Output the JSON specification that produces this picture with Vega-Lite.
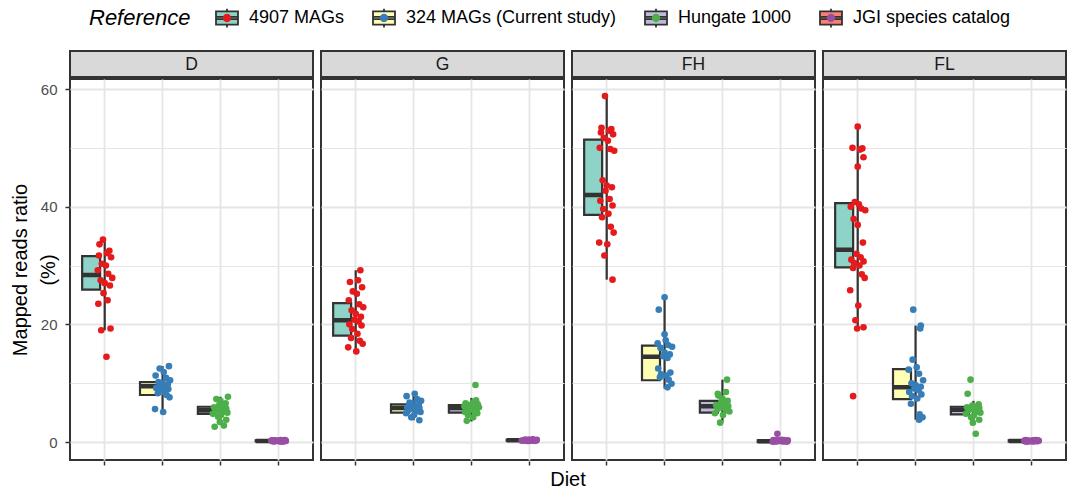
{
  "$schema": "https://vega.github.io/schema/vega-lite/v6.json",
  "background": "white",
  "padding": {"left": 10, "top": 6, "right": 4, "bottom": 4},
  "config": {
    "font": "Liberation Sans",
    "view": {"stroke": "#333333", "strokeWidth": 2},
    "axis": {"domain": false}
  },
  "datasets": {
    "strips": [{"diet": "D"}, {"diet": "G"}, {"diet": "FH"}, {"diet": "FL"}],
    "main": [
      {"diet":"D","ref":"4907 MAGs","lo":19.0,"q1":25.9,"med":28.4,"q3":31.6,"hi":34.4},
      {"diet":"D","ref":"324 MAGs (Current study)","lo":5.1,"q1":8.0,"med":9.5,"q3":10.2,"hi":12.9},
      {"diet":"D","ref":"Hungate 1000","lo":3.4,"q1":4.8,"med":5.4,"q3":6.0,"hi":7.7},
      {"diet":"D","ref":"JGI species catalog","lo":0.05,"q1":0.12,"med":0.2,"q3":0.3,"hi":0.4},
      {"diet":"G","ref":"4907 MAGs","lo":15.3,"q1":18.1,"med":20.7,"q3":23.6,"hi":29.2},
      {"diet":"G","ref":"324 MAGs (Current study)","lo":3.7,"q1":5.0,"med":5.8,"q3":6.4,"hi":8.2},
      {"diet":"G","ref":"Hungate 1000","lo":3.5,"q1":5.0,"med":5.8,"q3":6.3,"hi":7.5},
      {"diet":"G","ref":"JGI species catalog","lo":0.1,"q1":0.2,"med":0.3,"q3":0.4,"hi":0.5},
      {"diet":"FH","ref":"4907 MAGs","lo":27.6,"q1":38.6,"med":42.0,"q3":51.4,"hi":58.8},
      {"diet":"FH","ref":"324 MAGs (Current study)","lo":9.1,"q1":10.5,"med":14.5,"q3":16.4,"hi":24.6},
      {"diet":"FH","ref":"Hungate 1000","lo":3.3,"q1":5.0,"med":6.1,"q3":7.0,"hi":10.6},
      {"diet":"FH","ref":"JGI species catalog","lo":0.0,"q1":0.0,"med":0.15,"q3":0.3,"hi":0.5},
      {"diet":"FL","ref":"4907 MAGs","lo":19.3,"q1":29.7,"med":32.7,"q3":40.6,"hi":53.6},
      {"diet":"FL","ref":"324 MAGs (Current study)","lo":3.8,"q1":7.3,"med":9.3,"q3":12.4,"hi":19.8},
      {"diet":"FL","ref":"Hungate 1000","lo":3.4,"q1":4.7,"med":5.5,"q3":6.0,"hi":7.0},
      {"diet":"FL","ref":"JGI species catalog","lo":0.05,"q1":0.1,"med":0.2,"q3":0.3,"hi":0.4},

      {"diet":"D","ref":"4907 MAGs","v":34.4,"j":-0.03},{"diet":"D","ref":"4907 MAGs","v":33.6,"j":-0.09},{"diet":"D","ref":"4907 MAGs","v":32.5,"j":0.08},{"diet":"D","ref":"4907 MAGs","v":32.1,"j":0.04},{"diet":"D","ref":"4907 MAGs","v":31.7,"j":-0.1},{"diet":"D","ref":"4907 MAGs","v":31.4,"j":0.11},{"diet":"D","ref":"4907 MAGs","v":30.3,"j":-0.05},{"diet":"D","ref":"4907 MAGs","v":30.0,"j":0.02},{"diet":"D","ref":"4907 MAGs","v":29.2,"j":-0.12},{"diet":"D","ref":"4907 MAGs","v":28.6,"j":0.06},{"diet":"D","ref":"4907 MAGs","v":27.9,"j":0.13},{"diet":"D","ref":"4907 MAGs","v":27.5,"j":-0.07},{"diet":"D","ref":"4907 MAGs","v":27.0,"j":0.0},{"diet":"D","ref":"4907 MAGs","v":26.6,"j":0.09},{"diet":"D","ref":"4907 MAGs","v":25.3,"j":-0.02},{"diet":"D","ref":"4907 MAGs","v":24.1,"j":0.05},{"diet":"D","ref":"4907 MAGs","v":23.5,"j":-0.11},{"diet":"D","ref":"4907 MAGs","v":19.3,"j":0.1},{"diet":"D","ref":"4907 MAGs","v":19.0,"j":-0.06},{"diet":"D","ref":"4907 MAGs","v":14.5,"j":0.03},

      {"diet":"D","ref":"324 MAGs (Current study)","v":12.9,"j":0.11},{"diet":"D","ref":"324 MAGs (Current study)","v":12.5,"j":-0.05},{"diet":"D","ref":"324 MAGs (Current study)","v":11.9,"j":0.02},{"diet":"D","ref":"324 MAGs (Current study)","v":11.3,"j":-0.12},{"diet":"D","ref":"324 MAGs (Current study)","v":10.9,"j":0.06},{"diet":"D","ref":"324 MAGs (Current study)","v":10.5,"j":0.13},{"diet":"D","ref":"324 MAGs (Current study)","v":10.2,"j":-0.07},{"diet":"D","ref":"324 MAGs (Current study)","v":10.0,"j":0.0},{"diet":"D","ref":"324 MAGs (Current study)","v":9.8,"j":0.09},{"diet":"D","ref":"324 MAGs (Current study)","v":9.6,"j":-0.02},{"diet":"D","ref":"324 MAGs (Current study)","v":9.4,"j":0.05},{"diet":"D","ref":"324 MAGs (Current study)","v":9.2,"j":-0.11},{"diet":"D","ref":"324 MAGs (Current study)","v":9.0,"j":0.1},{"diet":"D","ref":"324 MAGs (Current study)","v":8.8,"j":-0.06},{"diet":"D","ref":"324 MAGs (Current study)","v":8.5,"j":0.03},{"diet":"D","ref":"324 MAGs (Current study)","v":8.3,"j":-0.08},{"diet":"D","ref":"324 MAGs (Current study)","v":8.0,"j":0.07},{"diet":"D","ref":"324 MAGs (Current study)","v":7.6,"j":0.12},{"diet":"D","ref":"324 MAGs (Current study)","v":5.6,"j":-0.13},{"diet":"D","ref":"324 MAGs (Current study)","v":5.1,"j":0.01},

      {"diet":"D","ref":"Hungate 1000","v":7.7,"j":0.13},{"diet":"D","ref":"Hungate 1000","v":7.3,"j":-0.07},{"diet":"D","ref":"Hungate 1000","v":7.0,"j":0.0},{"diet":"D","ref":"Hungate 1000","v":6.6,"j":0.09},{"diet":"D","ref":"Hungate 1000","v":6.3,"j":-0.02},{"diet":"D","ref":"Hungate 1000","v":6.1,"j":0.05},{"diet":"D","ref":"Hungate 1000","v":5.9,"j":-0.11},{"diet":"D","ref":"Hungate 1000","v":5.7,"j":0.1},{"diet":"D","ref":"Hungate 1000","v":5.5,"j":-0.06},{"diet":"D","ref":"Hungate 1000","v":5.4,"j":0.03},{"diet":"D","ref":"Hungate 1000","v":5.3,"j":-0.08},{"diet":"D","ref":"Hungate 1000","v":5.2,"j":0.07},{"diet":"D","ref":"Hungate 1000","v":5.0,"j":0.12},{"diet":"D","ref":"Hungate 1000","v":4.8,"j":-0.13},{"diet":"D","ref":"Hungate 1000","v":4.6,"j":0.01},{"diet":"D","ref":"Hungate 1000","v":4.3,"j":-0.04},{"diet":"D","ref":"Hungate 1000","v":3.8,"j":0.1},{"diet":"D","ref":"Hungate 1000","v":3.4,"j":-0.01},{"diet":"D","ref":"Hungate 1000","v":2.8,"j":0.06},{"diet":"D","ref":"Hungate 1000","v":2.6,"j":-0.1},

      {"diet":"D","ref":"JGI species catalog","v":0.35,"j":0.04},{"diet":"D","ref":"JGI species catalog","v":0.3,"j":-0.1},{"diet":"D","ref":"JGI species catalog","v":0.32,"j":0.11},{"diet":"D","ref":"JGI species catalog","v":0.28,"j":-0.05},{"diet":"D","ref":"JGI species catalog","v":0.25,"j":0.02},{"diet":"D","ref":"JGI species catalog","v":0.26,"j":-0.12},{"diet":"D","ref":"JGI species catalog","v":0.22,"j":0.06},{"diet":"D","ref":"JGI species catalog","v":0.2,"j":0.13},{"diet":"D","ref":"JGI species catalog","v":0.21,"j":-0.07},{"diet":"D","ref":"JGI species catalog","v":0.19,"j":0.0},{"diet":"D","ref":"JGI species catalog","v":0.18,"j":0.09},{"diet":"D","ref":"JGI species catalog","v":0.17,"j":-0.02},{"diet":"D","ref":"JGI species catalog","v":0.15,"j":0.05},{"diet":"D","ref":"JGI species catalog","v":0.16,"j":-0.11},{"diet":"D","ref":"JGI species catalog","v":0.12,"j":0.1},{"diet":"D","ref":"JGI species catalog","v":0.13,"j":-0.06},{"diet":"D","ref":"JGI species catalog","v":0.1,"j":0.03},{"diet":"D","ref":"JGI species catalog","v":0.11,"j":-0.08},{"diet":"D","ref":"JGI species catalog","v":0.08,"j":0.07},{"diet":"D","ref":"JGI species catalog","v":0.3,"j":0.12},

      {"diet":"G","ref":"4907 MAGs","v":29.2,"j":0.08},{"diet":"G","ref":"4907 MAGs","v":27.5,"j":0.04},{"diet":"G","ref":"4907 MAGs","v":27.2,"j":-0.1},{"diet":"G","ref":"4907 MAGs","v":26.3,"j":0.11},{"diet":"G","ref":"4907 MAGs","v":25.6,"j":-0.05},{"diet":"G","ref":"4907 MAGs","v":25.2,"j":0.02},{"diet":"G","ref":"4907 MAGs","v":24.1,"j":-0.12},{"diet":"G","ref":"4907 MAGs","v":23.4,"j":0.06},{"diet":"G","ref":"4907 MAGs","v":22.9,"j":0.13},{"diet":"G","ref":"4907 MAGs","v":22.4,"j":-0.07},{"diet":"G","ref":"4907 MAGs","v":21.8,"j":0.0},{"diet":"G","ref":"4907 MAGs","v":21.3,"j":0.09},{"diet":"G","ref":"4907 MAGs","v":20.8,"j":-0.02},{"diet":"G","ref":"4907 MAGs","v":20.5,"j":0.05},{"diet":"G","ref":"4907 MAGs","v":20.0,"j":-0.11},{"diet":"G","ref":"4907 MAGs","v":19.8,"j":0.1},{"diet":"G","ref":"4907 MAGs","v":19.2,"j":-0.06},{"diet":"G","ref":"4907 MAGs","v":18.4,"j":0.03},{"diet":"G","ref":"4907 MAGs","v":17.7,"j":-0.08},{"diet":"G","ref":"4907 MAGs","v":17.2,"j":0.07},{"diet":"G","ref":"4907 MAGs","v":16.7,"j":0.12},{"diet":"G","ref":"4907 MAGs","v":16.1,"j":-0.13},{"diet":"G","ref":"4907 MAGs","v":15.4,"j":0.01},

      {"diet":"G","ref":"324 MAGs (Current study)","v":8.2,"j":0.02},{"diet":"G","ref":"324 MAGs (Current study)","v":7.8,"j":-0.12},{"diet":"G","ref":"324 MAGs (Current study)","v":7.3,"j":0.06},{"diet":"G","ref":"324 MAGs (Current study)","v":7.0,"j":0.13},{"diet":"G","ref":"324 MAGs (Current study)","v":6.7,"j":-0.07},{"diet":"G","ref":"324 MAGs (Current study)","v":6.5,"j":0.0},{"diet":"G","ref":"324 MAGs (Current study)","v":6.3,"j":0.09},{"diet":"G","ref":"324 MAGs (Current study)","v":6.1,"j":-0.02},{"diet":"G","ref":"324 MAGs (Current study)","v":6.0,"j":0.05},{"diet":"G","ref":"324 MAGs (Current study)","v":5.9,"j":-0.11},{"diet":"G","ref":"324 MAGs (Current study)","v":5.8,"j":0.1},{"diet":"G","ref":"324 MAGs (Current study)","v":5.7,"j":-0.06},{"diet":"G","ref":"324 MAGs (Current study)","v":5.6,"j":0.03},{"diet":"G","ref":"324 MAGs (Current study)","v":5.5,"j":-0.08},{"diet":"G","ref":"324 MAGs (Current study)","v":5.3,"j":0.07},{"diet":"G","ref":"324 MAGs (Current study)","v":5.1,"j":0.12},{"diet":"G","ref":"324 MAGs (Current study)","v":4.9,"j":-0.13},{"diet":"G","ref":"324 MAGs (Current study)","v":4.6,"j":0.01},{"diet":"G","ref":"324 MAGs (Current study)","v":4.2,"j":-0.04},{"diet":"G","ref":"324 MAGs (Current study)","v":3.7,"j":0.1},

      {"diet":"G","ref":"Hungate 1000","v":9.7,"j":0.07},{"diet":"G","ref":"Hungate 1000","v":7.1,"j":0.08},{"diet":"G","ref":"Hungate 1000","v":6.8,"j":0.04},{"diet":"G","ref":"Hungate 1000","v":6.6,"j":-0.1},{"diet":"G","ref":"Hungate 1000","v":6.4,"j":0.11},{"diet":"G","ref":"Hungate 1000","v":6.3,"j":-0.05},{"diet":"G","ref":"Hungate 1000","v":6.2,"j":0.02},{"diet":"G","ref":"Hungate 1000","v":6.1,"j":-0.12},{"diet":"G","ref":"Hungate 1000","v":6.0,"j":0.06},{"diet":"G","ref":"Hungate 1000","v":5.9,"j":0.13},{"diet":"G","ref":"Hungate 1000","v":5.8,"j":-0.07},{"diet":"G","ref":"Hungate 1000","v":5.7,"j":0.0},{"diet":"G","ref":"Hungate 1000","v":5.6,"j":0.09},{"diet":"G","ref":"Hungate 1000","v":5.5,"j":-0.02},{"diet":"G","ref":"Hungate 1000","v":5.3,"j":0.05},{"diet":"G","ref":"Hungate 1000","v":5.1,"j":-0.11},{"diet":"G","ref":"Hungate 1000","v":4.9,"j":0.1},{"diet":"G","ref":"Hungate 1000","v":4.6,"j":-0.06},{"diet":"G","ref":"Hungate 1000","v":4.2,"j":0.03},{"diet":"G","ref":"Hungate 1000","v":3.6,"j":-0.08},

      {"diet":"G","ref":"JGI species catalog","v":0.45,"j":0.06},{"diet":"G","ref":"JGI species catalog","v":0.4,"j":0.13},{"diet":"G","ref":"JGI species catalog","v":0.42,"j":-0.07},{"diet":"G","ref":"JGI species catalog","v":0.38,"j":0.0},{"diet":"G","ref":"JGI species catalog","v":0.35,"j":0.09},{"diet":"G","ref":"JGI species catalog","v":0.36,"j":-0.02},{"diet":"G","ref":"JGI species catalog","v":0.32,"j":0.05},{"diet":"G","ref":"JGI species catalog","v":0.3,"j":-0.11},{"diet":"G","ref":"JGI species catalog","v":0.31,"j":0.1},{"diet":"G","ref":"JGI species catalog","v":0.29,"j":-0.06},{"diet":"G","ref":"JGI species catalog","v":0.28,"j":0.03},{"diet":"G","ref":"JGI species catalog","v":0.27,"j":-0.08},{"diet":"G","ref":"JGI species catalog","v":0.25,"j":0.07},{"diet":"G","ref":"JGI species catalog","v":0.26,"j":0.12},{"diet":"G","ref":"JGI species catalog","v":0.22,"j":-0.13},{"diet":"G","ref":"JGI species catalog","v":0.23,"j":0.01},{"diet":"G","ref":"JGI species catalog","v":0.2,"j":-0.04},{"diet":"G","ref":"JGI species catalog","v":0.21,"j":0.1},{"diet":"G","ref":"JGI species catalog","v":0.18,"j":-0.01},{"diet":"G","ref":"JGI species catalog","v":0.4,"j":0.06},

      {"diet":"FH","ref":"4907 MAGs","v":58.8,"j":-0.03},{"diet":"FH","ref":"4907 MAGs","v":53.4,"j":-0.09},{"diet":"FH","ref":"4907 MAGs","v":53.2,"j":0.08},{"diet":"FH","ref":"4907 MAGs","v":52.9,"j":0.04},{"diet":"FH","ref":"4907 MAGs","v":52.6,"j":-0.1},{"diet":"FH","ref":"4907 MAGs","v":52.3,"j":0.11},{"diet":"FH","ref":"4907 MAGs","v":51.7,"j":-0.05},{"diet":"FH","ref":"4907 MAGs","v":51.2,"j":0.02},{"diet":"FH","ref":"4907 MAGs","v":50.0,"j":-0.12},{"diet":"FH","ref":"4907 MAGs","v":49.8,"j":0.06},{"diet":"FH","ref":"4907 MAGs","v":49.5,"j":0.13},{"diet":"FH","ref":"4907 MAGs","v":44.5,"j":-0.07},{"diet":"FH","ref":"4907 MAGs","v":43.6,"j":0.0},{"diet":"FH","ref":"4907 MAGs","v":43.3,"j":0.09},{"diet":"FH","ref":"4907 MAGs","v":42.7,"j":-0.02},{"diet":"FH","ref":"4907 MAGs","v":41.3,"j":0.05},{"diet":"FH","ref":"4907 MAGs","v":41.0,"j":-0.11},{"diet":"FH","ref":"4907 MAGs","v":40.2,"j":0.1},{"diet":"FH","ref":"4907 MAGs","v":39.6,"j":-0.06},{"diet":"FH","ref":"4907 MAGs","v":38.8,"j":0.03},{"diet":"FH","ref":"4907 MAGs","v":38.2,"j":-0.08},{"diet":"FH","ref":"4907 MAGs","v":36.6,"j":0.07},{"diet":"FH","ref":"4907 MAGs","v":35.6,"j":0.12},{"diet":"FH","ref":"4907 MAGs","v":33.9,"j":-0.13},{"diet":"FH","ref":"4907 MAGs","v":33.6,"j":0.01},{"diet":"FH","ref":"4907 MAGs","v":31.7,"j":-0.04},{"diet":"FH","ref":"4907 MAGs","v":27.6,"j":0.1},

      {"diet":"FH","ref":"324 MAGs (Current study)","v":24.6,"j":0.0},{"diet":"FH","ref":"324 MAGs (Current study)","v":22.5,"j":-0.1},{"diet":"FH","ref":"324 MAGs (Current study)","v":18.3,"j":0.0},{"diet":"FH","ref":"324 MAGs (Current study)","v":17.3,"j":0.02},{"diet":"FH","ref":"324 MAGs (Current study)","v":16.8,"j":-0.12},{"diet":"FH","ref":"324 MAGs (Current study)","v":16.5,"j":0.06},{"diet":"FH","ref":"324 MAGs (Current study)","v":16.2,"j":0.13},{"diet":"FH","ref":"324 MAGs (Current study)","v":16.0,"j":-0.07},{"diet":"FH","ref":"324 MAGs (Current study)","v":15.2,"j":0.0},{"diet":"FH","ref":"324 MAGs (Current study)","v":14.9,"j":0.09},{"diet":"FH","ref":"324 MAGs (Current study)","v":14.6,"j":-0.02},{"diet":"FH","ref":"324 MAGs (Current study)","v":14.3,"j":0.05},{"diet":"FH","ref":"324 MAGs (Current study)","v":12.5,"j":-0.11},{"diet":"FH","ref":"324 MAGs (Current study)","v":11.8,"j":0.1},{"diet":"FH","ref":"324 MAGs (Current study)","v":11.5,"j":-0.06},{"diet":"FH","ref":"324 MAGs (Current study)","v":11.3,"j":0.03},{"diet":"FH","ref":"324 MAGs (Current study)","v":11.0,"j":-0.08},{"diet":"FH","ref":"324 MAGs (Current study)","v":10.6,"j":0.07},{"diet":"FH","ref":"324 MAGs (Current study)","v":9.9,"j":0.12},{"diet":"FH","ref":"324 MAGs (Current study)","v":9.3,"j":0.05},

      {"diet":"FH","ref":"Hungate 1000","v":10.6,"j":0.08},{"diet":"FH","ref":"Hungate 1000","v":8.5,"j":0.06},{"diet":"FH","ref":"Hungate 1000","v":8.2,"j":-0.08},{"diet":"FH","ref":"Hungate 1000","v":7.9,"j":-0.07},{"diet":"FH","ref":"Hungate 1000","v":7.4,"j":0.0},{"diet":"FH","ref":"Hungate 1000","v":7.0,"j":0.09},{"diet":"FH","ref":"Hungate 1000","v":6.8,"j":-0.02},{"diet":"FH","ref":"Hungate 1000","v":6.5,"j":0.05},{"diet":"FH","ref":"Hungate 1000","v":6.3,"j":-0.11},{"diet":"FH","ref":"Hungate 1000","v":6.1,"j":0.1},{"diet":"FH","ref":"Hungate 1000","v":6.0,"j":-0.06},{"diet":"FH","ref":"Hungate 1000","v":5.8,"j":0.03},{"diet":"FH","ref":"Hungate 1000","v":5.6,"j":-0.08},{"diet":"FH","ref":"Hungate 1000","v":5.4,"j":0.07},{"diet":"FH","ref":"Hungate 1000","v":5.2,"j":0.12},{"diet":"FH","ref":"Hungate 1000","v":4.9,"j":-0.13},{"diet":"FH","ref":"Hungate 1000","v":4.6,"j":0.01},{"diet":"FH","ref":"Hungate 1000","v":3.3,"j":-0.04},

      {"diet":"FH","ref":"JGI species catalog","v":1.4,"j":-0.05},{"diet":"FH","ref":"JGI species catalog","v":0.4,"j":0.02},{"diet":"FH","ref":"JGI species catalog","v":0.35,"j":-0.12},{"diet":"FH","ref":"JGI species catalog","v":0.32,"j":0.06},{"diet":"FH","ref":"JGI species catalog","v":0.3,"j":0.13},{"diet":"FH","ref":"JGI species catalog","v":0.28,"j":-0.07},{"diet":"FH","ref":"JGI species catalog","v":0.25,"j":0.0},{"diet":"FH","ref":"JGI species catalog","v":0.22,"j":0.09},{"diet":"FH","ref":"JGI species catalog","v":0.2,"j":-0.02},{"diet":"FH","ref":"JGI species catalog","v":0.18,"j":0.05},{"diet":"FH","ref":"JGI species catalog","v":0.16,"j":-0.11},{"diet":"FH","ref":"JGI species catalog","v":0.15,"j":0.1},{"diet":"FH","ref":"JGI species catalog","v":0.13,"j":-0.06},{"diet":"FH","ref":"JGI species catalog","v":0.12,"j":0.03},{"diet":"FH","ref":"JGI species catalog","v":0.1,"j":-0.08},{"diet":"FH","ref":"JGI species catalog","v":0.1,"j":0.07},{"diet":"FH","ref":"JGI species catalog","v":0.08,"j":0.12},{"diet":"FH","ref":"JGI species catalog","v":0.05,"j":-0.13},{"diet":"FH","ref":"JGI species catalog","v":0.3,"j":0.01},{"diet":"FH","ref":"JGI species catalog","v":0.2,"j":-0.04},

      {"diet":"FL","ref":"4907 MAGs","v":53.6,"j":0.0},{"diet":"FL","ref":"4907 MAGs","v":50.0,"j":-0.09},{"diet":"FL","ref":"4907 MAGs","v":49.9,"j":0.08},{"diet":"FL","ref":"4907 MAGs","v":49.7,"j":0.04},{"diet":"FL","ref":"4907 MAGs","v":48.4,"j":0.1},{"diet":"FL","ref":"4907 MAGs","v":46.8,"j":0.0},{"diet":"FL","ref":"4907 MAGs","v":40.8,"j":-0.05},{"diet":"FL","ref":"4907 MAGs","v":40.4,"j":0.02},{"diet":"FL","ref":"4907 MAGs","v":40.0,"j":-0.12},{"diet":"FL","ref":"4907 MAGs","v":39.7,"j":0.06},{"diet":"FL","ref":"4907 MAGs","v":39.4,"j":0.13},{"diet":"FL","ref":"4907 MAGs","v":37.9,"j":-0.07},{"diet":"FL","ref":"4907 MAGs","v":36.9,"j":0.0},{"diet":"FL","ref":"4907 MAGs","v":33.9,"j":0.09},{"diet":"FL","ref":"4907 MAGs","v":32.0,"j":-0.02},{"diet":"FL","ref":"4907 MAGs","v":31.4,"j":0.05},{"diet":"FL","ref":"4907 MAGs","v":31.0,"j":-0.11},{"diet":"FL","ref":"4907 MAGs","v":30.7,"j":0.1},{"diet":"FL","ref":"4907 MAGs","v":30.4,"j":-0.06},{"diet":"FL","ref":"4907 MAGs","v":30.0,"j":0.03},{"diet":"FL","ref":"4907 MAGs","v":29.6,"j":-0.08},{"diet":"FL","ref":"4907 MAGs","v":28.5,"j":0.07},{"diet":"FL","ref":"4907 MAGs","v":27.9,"j":0.12},{"diet":"FL","ref":"4907 MAGs","v":25.8,"j":-0.13},{"diet":"FL","ref":"4907 MAGs","v":23.2,"j":0.01},{"diet":"FL","ref":"4907 MAGs","v":20.7,"j":-0.04},{"diet":"FL","ref":"4907 MAGs","v":19.5,"j":0.1},{"diet":"FL","ref":"4907 MAGs","v":19.3,"j":-0.01},{"diet":"FL","ref":"4907 MAGs","v":7.8,"j":-0.08},

      {"diet":"FL","ref":"324 MAGs (Current study)","v":22.5,"j":-0.04},{"diet":"FL","ref":"324 MAGs (Current study)","v":19.8,"j":0.09},{"diet":"FL","ref":"324 MAGs (Current study)","v":19.3,"j":0.08},{"diet":"FL","ref":"324 MAGs (Current study)","v":14.0,"j":-0.05},{"diet":"FL","ref":"324 MAGs (Current study)","v":12.7,"j":0.02},{"diet":"FL","ref":"324 MAGs (Current study)","v":12.3,"j":-0.12},{"diet":"FL","ref":"324 MAGs (Current study)","v":11.6,"j":0.06},{"diet":"FL","ref":"324 MAGs (Current study)","v":10.5,"j":0.13},{"diet":"FL","ref":"324 MAGs (Current study)","v":10.0,"j":-0.07},{"diet":"FL","ref":"324 MAGs (Current study)","v":9.7,"j":0.0},{"diet":"FL","ref":"324 MAGs (Current study)","v":9.4,"j":0.09},{"diet":"FL","ref":"324 MAGs (Current study)","v":9.1,"j":-0.02},{"diet":"FL","ref":"324 MAGs (Current study)","v":8.8,"j":0.05},{"diet":"FL","ref":"324 MAGs (Current study)","v":8.5,"j":-0.11},{"diet":"FL","ref":"324 MAGs (Current study)","v":8.1,"j":0.1},{"diet":"FL","ref":"324 MAGs (Current study)","v":7.8,"j":-0.06},{"diet":"FL","ref":"324 MAGs (Current study)","v":7.4,"j":0.03},{"diet":"FL","ref":"324 MAGs (Current study)","v":6.5,"j":-0.08},{"diet":"FL","ref":"324 MAGs (Current study)","v":4.7,"j":0.07},{"diet":"FL","ref":"324 MAGs (Current study)","v":4.2,"j":0.12},{"diet":"FL","ref":"324 MAGs (Current study)","v":3.8,"j":0.06},

      {"diet":"FL","ref":"Hungate 1000","v":10.6,"j":-0.05},{"diet":"FL","ref":"Hungate 1000","v":8.2,"j":-0.1},{"diet":"FL","ref":"Hungate 1000","v":6.4,"j":0.09},{"diet":"FL","ref":"Hungate 1000","v":6.2,"j":-0.02},{"diet":"FL","ref":"Hungate 1000","v":6.0,"j":0.05},{"diet":"FL","ref":"Hungate 1000","v":5.9,"j":-0.11},{"diet":"FL","ref":"Hungate 1000","v":5.8,"j":0.1},{"diet":"FL","ref":"Hungate 1000","v":5.6,"j":-0.06},{"diet":"FL","ref":"Hungate 1000","v":5.5,"j":0.03},{"diet":"FL","ref":"Hungate 1000","v":5.4,"j":-0.08},{"diet":"FL","ref":"Hungate 1000","v":5.2,"j":0.07},{"diet":"FL","ref":"Hungate 1000","v":5.0,"j":0.12},{"diet":"FL","ref":"Hungate 1000","v":4.8,"j":-0.13},{"diet":"FL","ref":"Hungate 1000","v":4.5,"j":0.01},{"diet":"FL","ref":"Hungate 1000","v":4.2,"j":-0.04},{"diet":"FL","ref":"Hungate 1000","v":3.8,"j":0.1},{"diet":"FL","ref":"Hungate 1000","v":3.3,"j":-0.01},{"diet":"FL","ref":"Hungate 1000","v":1.4,"j":0.04},

      {"diet":"FL","ref":"JGI species catalog","v":0.35,"j":0.08},{"diet":"FL","ref":"JGI species catalog","v":0.3,"j":0.04},{"diet":"FL","ref":"JGI species catalog","v":0.32,"j":-0.1},{"diet":"FL","ref":"JGI species catalog","v":0.28,"j":0.11},{"diet":"FL","ref":"JGI species catalog","v":0.25,"j":-0.05},{"diet":"FL","ref":"JGI species catalog","v":0.26,"j":0.02},{"diet":"FL","ref":"JGI species catalog","v":0.22,"j":-0.12},{"diet":"FL","ref":"JGI species catalog","v":0.2,"j":0.06},{"diet":"FL","ref":"JGI species catalog","v":0.21,"j":0.13},{"diet":"FL","ref":"JGI species catalog","v":0.19,"j":-0.07},{"diet":"FL","ref":"JGI species catalog","v":0.18,"j":0.0},{"diet":"FL","ref":"JGI species catalog","v":0.17,"j":0.09},{"diet":"FL","ref":"JGI species catalog","v":0.15,"j":-0.02},{"diet":"FL","ref":"JGI species catalog","v":0.16,"j":0.05},{"diet":"FL","ref":"JGI species catalog","v":0.12,"j":-0.11},{"diet":"FL","ref":"JGI species catalog","v":0.13,"j":0.1},{"diet":"FL","ref":"JGI species catalog","v":0.1,"j":-0.06},{"diet":"FL","ref":"JGI species catalog","v":0.11,"j":0.03},{"diet":"FL","ref":"JGI species catalog","v":0.08,"j":-0.08},{"diet":"FL","ref":"JGI species catalog","v":0.3,"j":0.07}
    ]
  },
  "spacing": 0,
  "resolve": {"scale": {"color": "shared", "fill": "shared"}},
  "vconcat": [
    {
      "data": {"name": "strips"},
      "facet": {"column": {"field": "diet", "type": "nominal", "sort": ["D", "G", "FH", "FL"], "header": null}},
      "spacing": 6,
      "spec": {
        "width": 243,
        "height": 26,
        "view": {"fill": "#D9D9D9", "stroke": "#333333", "strokeWidth": 2},
        "mark": {"type": "text", "fontSize": 17.5, "color": "#1A1A1A", "baseline": "middle", "dy": 1},
        "encoding": {"text": {"field": "diet", "type": "nominal"}}
      }
    },
    {
      "data": {"name": "main"},
      "facet": {
        "column": {
          "field": "diet", "type": "nominal", "sort": ["D", "G", "FH", "FL"], "title": "Diet",
          "header": {"labels": false, "titleOrient": "bottom", "titleFontSize": 20, "titleFontWeight": "normal", "titleColor": "black", "titlePadding": -6}
        }
      },
      "spacing": 6,
      "spec": {
        "width": 243,
        "height": 381,
        "view": {"fill": "white", "stroke": "#333333", "strokeWidth": 2},
        "encoding": {
          "x": {
            "field": "ref", "type": "nominal",
            "sort": ["4907 MAGs", "324 MAGs (Current study)", "Hungate 1000", "JGI species catalog"],
            "scale": {"type": "band", "paddingInner": 0.22, "paddingOuter": 0.21},
            "axis": {"labels": false, "title": null, "domain": false, "grid": true, "gridColor": "#E5E5E5", "gridWidth": 1.8, "bandPosition": 0.5, "ticks": true, "tickSize": 4, "tickWidth": 1.5, "tickColor": "#333333"}
          }
        },
        "layer": [
          {
            "transform": [{"filter": "isValid(datum.q1)"}],
            "mark": {"type": "rule", "color": "#333333", "strokeWidth": 2.2},
            "encoding": {
              "y": {
                "field": "lo", "type": "quantitative",
                "scale": {"domain": [-3.05, 61.7], "nice": false, "zero": false},
                "axis": {"orient": "left", "values": [0, 20, 40, 60], "grid": true, "gridColor": "#E5E5E5", "gridWidth": 1.8, "domain": false, "tickColor": "#333333", "tickSize": 4, "tickWidth": 1.5, "labelFontSize": 15, "labelColor": "#4D4D4D", "labelPadding": 8, "title": ["Mapped reads ratio", "(%)"], "titleFontSize": 20, "titleFontWeight": "normal", "titleColor": "black", "titlePadding": -18, "titleLineHeight": 28}
              },
              "y2": {"field": "hi"}
            }
          },
          {
            "transform": [{"filter": "isValid(datum.q1)"}],
            "mark": {"type": "bar", "stroke": "#333333", "strokeWidth": 2.2},
            "encoding": {
              "y": {"field": "q1", "type": "quantitative", "axis": {"orient": "left", "values": [10, 30, 50], "grid": true, "gridColor": "#E5E5E5", "gridWidth": 1, "labels": false, "ticks": false, "domain": false, "title": null}},
              "y2": {"field": "q3"},
              "fill": {
                "field": "ref", "type": "nominal",
                "sort": ["4907 MAGs", "324 MAGs (Current study)", "Hungate 1000", "JGI species catalog"],
                "scale": {"range": ["#8DD3C7", "#FFFFB3", "#BEBADA", "#FB8072"]},
                "legend": {
                  "orient": "none", "legendX": 19, "legendY": -45, "direction": "horizontal",
                  "title": "Reference", "titleOrient": "left", "titleFontSize": 22, "titleFontStyle": "italic", "titleFontWeight": "normal", "titleColor": "black", "titlePadding": 24, "titleBaseline": "middle",
                  "labelFontSize": 18, "labelColor": "black", "labelOffset": 10, "labelLimit": 400, "columnPadding": 24,
                  "symbolType": "M-1,-0.6H1V0.6H-1Z M-1,-0.1H1 M-1,0.1H1 M0,-0.6V-0.85 M0,0.6V0.85",
                  "symbolSize": 484, "symbolStrokeColor": "#333333", "symbolStrokeWidth": 1.8, "symbolOpacity": 1
                }
              }
            }
          },
          {
            "transform": [{"filter": "isValid(datum.q1)"}],
            "mark": {"type": "bar", "fill": null, "stroke": "#333333", "strokeWidth": 4.5, "strokeCap": "butt"},
            "encoding": {"y": {"field": "med", "type": "quantitative", "axis": null}, "y2": {"field": "med"}}
          },
          {
            "transform": [{"filter": "isValid(datum.v)"}],
            "mark": {"type": "circle", "size": 44, "opacity": 1},
            "encoding": {
              "y": {"field": "v", "type": "quantitative", "axis": null},
              "xOffset": {"field": "j", "type": "quantitative", "scale": {"domain": [-0.39, 0.39]}},
              "color": {
                "field": "ref", "type": "nominal",
                "sort": ["4907 MAGs", "324 MAGs (Current study)", "Hungate 1000", "JGI species catalog"],
                "scale": {"range": ["#E41A1C", "#377EB8", "#4DAF4A", "#984EA3"]},
                "legend": {
                  "orient": "none", "legendX": 19, "legendY": -45, "direction": "horizontal", "zindex": 2,
                  "title": "Reference", "titleOrient": "left", "titleFontSize": 22, "titleFontStyle": "italic", "titleFontWeight": "normal", "titleColor": "transparent", "titlePadding": 24, "titleBaseline": "middle",
                  "labelFontSize": 18, "labelColor": "transparent", "labelOffset": 10, "labelLimit": 400, "columnPadding": 24,
                  "symbolType": "M-1,-0.85H1V0.85H-1Z M-1,-0.85V0.85H1V-0.85Z M-0.38,0A0.38,0.38 0 1,0 0.38,0A0.38,0.38 0 1,0 -0.38,0Z",
                  "symbolSize": 484, "symbolStrokeColor": "transparent", "symbolStrokeWidth": 1.8, "symbolOpacity": 1
                }
              }
            }
          }
        ],
        "resolve": {"axis": {"y": "independent"}}
      }
    }
  ]
}
